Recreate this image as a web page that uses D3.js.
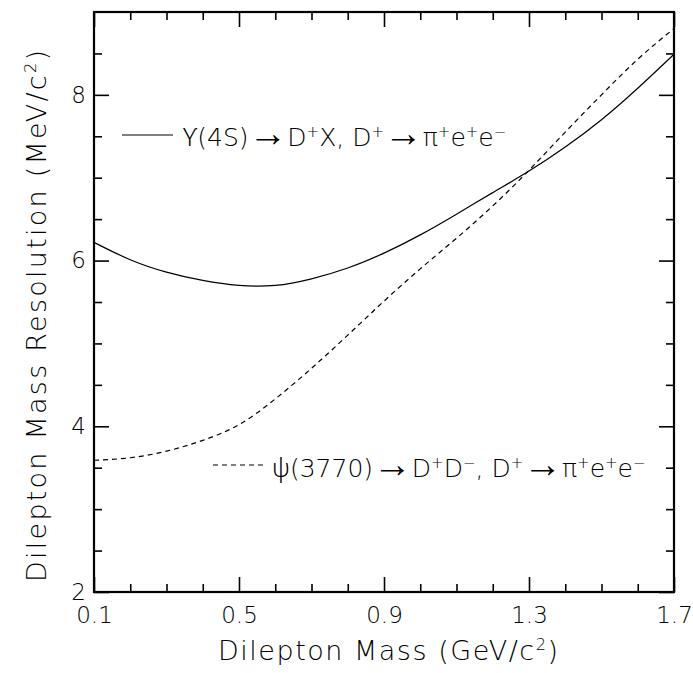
<!DOCTYPE html>
<html>
<head>
<meta charset="utf-8">
<script src="https://cdn.jsdelivr.net/npm/d3@7"></script>
<style>
  html, body { margin: 0; padding: 0; background: #fff; }
  svg text { font-family: "DejaVu Sans", "Noto Sans", sans-serif; font-weight: 200; fill: #000; }
  svg tspan.arrow { font-family: "Liberation Sans", sans-serif; font-weight: 400; font-size: 1.55em; }
  svg tspan.greek { font-family: "Noto Sans", "DejaVu Sans", sans-serif; font-weight: 300; }
</style>
</head>
<body>
<script>
// Dilepton mass points (GeV/c^2)
const massGeV = [0.1, 0.2, 0.3, 0.4, 0.5, 0.6, 0.7, 0.8, 0.9, 1.0, 1.1, 1.2, 1.3, 1.4, 1.5, 1.6, 1.7];
// Mass resolution (MeV/c^2) for Upsilon(4S) -> D+X, D+ -> pi+ e+ e-
const resUpsilon = [6.22, 6.01, 5.86, 5.76, 5.70, 5.70, 5.78, 5.91, 6.09, 6.31, 6.56, 6.82, 7.08, 7.37, 7.70, 8.08, 8.49];
// Mass resolution (MeV/c^2) for psi(3770) -> D+D-, D+ -> pi+ e+ e-
const resPsi = [3.59, 3.62, 3.70, 3.83, 4.02, 4.33, 4.70, 5.10, 5.51, 5.90, 6.27, 6.66, 7.09, 7.55, 8.00, 8.43, 8.80];

const xMajorTicks = [0.1, 0.5, 0.9, 1.3, 1.7];
const xMinorTicks = [0.2, 0.3, 0.4, 0.6, 0.7, 0.8, 1.0, 1.1, 1.2, 1.4, 1.5, 1.6];
const yMajorTicks = [2, 4, 6, 8];
const yMinorTicks = [2.5, 3, 3.5, 4.5, 5, 5.5, 6.5, 7, 7.5, 8.5];

const W = 693, H = 673;
const svg = d3.select("body").append("svg").attr("width", W).attr("height", H);

const x = d3.scaleLinear().domain([0.1, 1.7]).range([94, 674]);
const y = d3.scaleLinear().domain([2, 9]).range([592, 12]);

const [x0, x1] = x.range();
const [y0, y1] = y.range();

function styleAxis(g) {
  g.select(".domain").remove();
  g.selectAll(".tick line").attr("stroke", "#000").attr("stroke-width", 1.6);
  g.selectAll("text").style("font-size", "23px").attr("fill", "#000");
}

// major ticks with labels (bottom, left)
svg.append("g").attr("transform", `translate(0,${y0})`)
  .call(d3.axisBottom(x).tickValues(xMajorTicks).tickSize(-15).tickPadding(15).tickFormat(d3.format(".1f")))
  .call(styleAxis);
svg.append("g").attr("transform", `translate(${x0},0)`)
  .call(d3.axisLeft(y).tickValues(yMajorTicks).tickSize(-15).tickPadding(8).tickFormat(d3.format("d")))
  .call(styleAxis);

// mirrored major ticks (top, right)
svg.append("g").attr("transform", `translate(0,${y1})`)
  .call(d3.axisTop(x).tickValues(xMajorTicks).tickSize(-15).tickFormat(""))
  .call(styleAxis);
svg.append("g").attr("transform", `translate(${x1},0)`)
  .call(d3.axisRight(y).tickValues(yMajorTicks).tickSize(-15).tickFormat(""))
  .call(styleAxis);

// minor ticks on all sides
svg.append("g").attr("transform", `translate(0,${y0})`)
  .call(d3.axisBottom(x).tickValues(xMinorTicks).tickSize(-8).tickFormat(""))
  .call(styleAxis);
svg.append("g").attr("transform", `translate(0,${y1})`)
  .call(d3.axisTop(x).tickValues(xMinorTicks).tickSize(-8).tickFormat(""))
  .call(styleAxis);
svg.append("g").attr("transform", `translate(${x0},0)`)
  .call(d3.axisLeft(y).tickValues(yMinorTicks).tickSize(-8).tickFormat(""))
  .call(styleAxis);
svg.append("g").attr("transform", `translate(${x1},0)`)
  .call(d3.axisRight(y).tickValues(yMinorTicks).tickSize(-8).tickFormat(""))
  .call(styleAxis);

// curves
const line = d3.line().curve(d3.curveNatural);
svg.append("path")
  .attr("d", line(massGeV.map((m, i) => [x(m), y(resUpsilon[i])])))
  .attr("fill", "none").attr("stroke", "#000").attr("stroke-width", 1.2);
svg.append("path")
  .attr("d", line(massGeV.map((m, i) => [x(m), y(resPsi[i])])))
  .attr("fill", "none").attr("stroke", "#000").attr("stroke-width", 1.2)
  .attr("stroke-dasharray", "5,4");

// frame
svg.append("rect")
  .attr("x", x0).attr("y", y1).attr("width", x1 - x0).attr("height", y0 - y1)
  .attr("fill", "none").attr("stroke", "#000").attr("stroke-width", 2.2);

// rich text: plain runs, arrows, greek letters and raised superscript runs
function addRich(parent, parts, sup) {
  let raised = false;
  parts.forEach(p => {
    const ts = parent.append("tspan").text(p.t);
    if (p.a) ts.attr("class", "arrow");
    if (p.g) ts.attr("class", "greek");
    if (p.s) {
      ts.attr("dy", raised ? 0 : -sup).style("font-size", "0.6em");
      raised = true;
    } else if (raised) {
      ts.attr("dy", sup);
      raised = false;
    }
  });
}

// axis titles
const xt = svg.append("text").attr("x", 388).attr("y", 660).attr("text-anchor", "middle")
  .style("font-size", "27px").attr("textLength", 340).attr("lengthAdjust", "spacing");
addRich(xt, [{t: "Dilepton Mass (GeV/c"}, {t: "2", s: true}, {t: ")"}], 10);

const yt = svg.append("text").attr("transform", "translate(46,316) rotate(-90)")
  .attr("text-anchor", "middle").style("font-size", "27px")
  .attr("textLength", 532).attr("lengthAdjust", "spacing");
addRich(yt, [{t: "Dilepton Mass Resolution (MeV/c"}, {t: "2", s: true}, {t: ")"}], 10);

// legend
svg.append("line").attr("x1", 122).attr("x2", 173).attr("y1", 135).attr("y2", 135)
  .attr("stroke", "#000").attr("stroke-width", 1.2);
const l1 = svg.append("text").attr("x", 183).attr("y", 146).style("font-size", "25px");
addRich(l1, [
  {t: "\u03d2", g: true}, {t: "(4S)"}, {t: "\u2192", a: true}, {t: "D"}, {t: "+", s: true}, {t: "X, D"}, {t: "+", s: true},
  {t: "\u2192", a: true}, {t: "\u03c0"}, {t: "+", s: true}, {t: "e"}, {t: "+", s: true}, {t: "e"}, {t: "\u2212", s: true}
], 9);

svg.append("line").attr("x1", 213).attr("x2", 267).attr("y1", 465).attr("y2", 465)
  .attr("stroke", "#000").attr("stroke-width", 1.2).attr("stroke-dasharray", "5,4");
const l2 = svg.append("text").attr("x", 272).attr("y", 477).style("font-size", "25px");
addRich(l2, [
  {t: "\u03c8", g: true}, {t: "(3770)"}, {t: "\u2192", a: true}, {t: "D"}, {t: "+", s: true}, {t: "D"}, {t: "\u2212", s: true}, {t: ", D"}, {t: "+", s: true},
  {t: "\u2192", a: true}, {t: "\u03c0"}, {t: "+", s: true}, {t: "e"}, {t: "+", s: true}, {t: "e"}, {t: "\u2212", s: true}
], 9);
</script>
</body>
</html>
